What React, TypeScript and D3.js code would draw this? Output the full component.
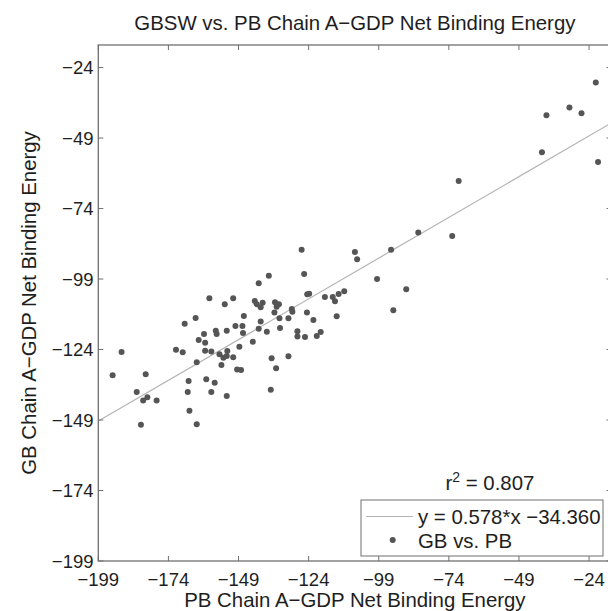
import React from "react";
import * as d3 from "d3";

const pbValues = [
  -193.9, -190.7, -185.3, -182.1, -183.0, -181.5, -178.2, -183.8, -171.3, -168.9,
  -168.2, -164.3, -163.9, -166.8, -167.1, -166.5, -163.9, -163.2, -161.3, -160.9,
  -160.9, -159.4, -158.7, -160.5, -157.5, -158.7, -157.1, -156.8, -153.9, -153.2,
  -150.9, -150.1, -147.6, -147.1, -147.4, -155.8, -155.1, -154.4, -153.0, -153.2,
  -150.9, -148.7, -149.5, -148.1, -153.2, -143.9, -143.2, -141.8, -142.5, -141.1,
  -140.4, -138.2, -141.1, -141.8, -138.9, -136.0, -135.4, -136.2, -134.6, -134.4,
  -134.2, -131.2, -137.2, -135.6, -137.5, -131.2, -126.5, -125.6, -124.5, -123.8,
  -130.0, -129.8, -124.6, -122.3, -128.0, -128.0, -125.3, -121.1, -119.7, -118.2,
  -115.4, -114.6, -113.3, -111.3, -114.0, -107.5, -106.7, -99.6, -94.6, -89.2,
  -93.8, -84.9, -72.8, -70.5, -40.8, -39.2, -31.0, -26.7, -21.6, -20.8,
];
const gbValues = [
  -133.1, -124.9, -139.1, -132.8, -142.1, -140.9, -142.1, -150.7, -124.1, -125.0,
  -114.9, -112.8, -128.5, -135.2, -139.1, -145.7, -150.5, -120.6, -118.5, -121.6,
  -124.4, -105.8, -124.7, -134.5, -135.8, -139.1, -117.3, -118.5, -107.9, -117.3,
  -105.8, -115.7, -115.7, -112.1, -118.1, -125.7, -129.5, -126.9, -124.5, -126.3,
  -126.7, -123.0, -131.1, -131.3, -140.5, -121.2, -106.8, -100.5, -107.9, -109.0,
  -107.4, -97.8, -114.1, -116.6, -117.7, -107.2, -108.8, -110.9, -107.9, -112.9,
  -116.4, -112.9, -127.1, -130.6, -138.3, -126.4, -88.6, -97.2, -104.4, -104.2,
  -109.6, -110.6, -110.9, -113.5, -117.5, -119.4, -119.6, -119.2, -117.8, -105.4,
  -105.4, -106.9, -104.3, -103.3, -112.2, -89.4, -92.0, -99.0, -88.6, -102.6,
  -110.1, -82.5, -83.7, -64.2, -54.0, -40.9, -38.2, -40.2, -29.3, -57.5,
];
const tickValues = [-199, -174, -149, -124, -99, -74, -49, -24];
const axisDomain = [-199, -16];
const fitSlope = 0.578;
const fitIntercept = -34.36;
const titleText = "GBSW vs. PB Chain A\u2212GDP Net Binding Energy";
const xLabelText = "PB Chain A\u2212GDP Net Binding Energy";
const yLabelText = "GB Chain A\u2212GDP Net Binding Energy";
const legendFitText = "y = 0.578*x \u221234.360";
const legendDataText = "GB vs. PB";
const r2Text = "0.807";

const W = 608;
const H = 611;
const FONT = "'Liberation Sans', Arial, Helvetica, sans-serif";

export default function App() {
  const left = 98.3, right = 611.5, top = 45, bottom = 561;
  const x = d3.scaleLinear().domain(axisDomain).range([left, right]);
  const y = d3.scaleLinear().domain(axisDomain).range([bottom, top]);
  const fmt = (v: number) => (v < 0 ? "\u2212" + Math.abs(v) : String(v));
  const frame = "#707070";
  const textColor = "#1e1e1e";
  const tickLen = 5;
  const lineGen = d3.line<number>().x((d) => x(d)).y((d) => y(fitSlope * d + fitIntercept));

  return (
    <svg
      width={W}
      height={H}
      style={{ position: "absolute", left: 0, top: 0, background: "#fff" }}
      fontFamily={FONT}
    >
      <rect x={0} y={0} width={W} height={H} fill="#fff" />
      <defs>
        <clipPath id="plotClip">
          <rect x={left} y={top} width={right - left} height={bottom - top} />
        </clipPath>
      </defs>

      <path
        d={lineGen(axisDomain) || ""}
        stroke="#b4b4b4"
        strokeWidth={1.2}
        fill="none"
        clipPath="url(#plotClip)"
      />

      <g fill="#555">
        {pbValues.map((v, i) => (
          <circle key={i} cx={x(v)} cy={y(gbValues[i])} r={3} />
        ))}
      </g>

      <rect x={left} y={top} width={right - left} height={bottom - top} fill="none" stroke={frame} strokeWidth={1.3} />

      <g stroke={frame} strokeWidth={1}>
        {tickValues.map((t) => (
          <g key={"t" + t}>
            <line x1={x(t)} x2={x(t)} y1={bottom} y2={bottom - tickLen} />
            <line x1={x(t)} x2={x(t)} y1={top} y2={top + tickLen} />
            <line x1={left} x2={left + tickLen} y1={y(t)} y2={y(t)} />
            <line x1={right} x2={right - tickLen} y1={y(t)} y2={y(t)} />
          </g>
        ))}
      </g>

      <g fill={textColor} fontSize={18.5}>
        {tickValues.map((t) => (
          <text key={"xl" + t} x={x(t)} y={586} textAnchor="middle">
            {fmt(t)}
          </text>
        ))}
        {tickValues.map((t) => (
          <text key={"yl" + t} x={93.5} y={y(t) + 6.5} textAnchor="end">
            {fmt(t)}
          </text>
        ))}
      </g>

      <text x={(left + right) / 2} y={30} textAnchor="middle" fontSize={20.4} fill={textColor}>
        {titleText}
      </text>
      <text x={(left + right) / 2} y={607} textAnchor="middle" fontSize={20.4} fill={textColor}>
        {xLabelText}
      </text>
      <text
        transform={`translate(35.5, ${(top + bottom) / 2}) rotate(-90)`}
        textAnchor="middle"
        fontSize={20.4}
        fill={textColor}
      >
        {yLabelText}
      </text>

      <text x={445.5} y={489.5} fontSize={20.4} fill={textColor}>
        r
        <tspan fontSize={14} dy={-8}>2</tspan>
        <tspan dy={8}>{" = " + r2Text}</tspan>
      </text>

      <rect x={361} y={500} width={242} height={56} fill="#fff" stroke={frame} strokeWidth={1} />
      <line x1={366} x2={413} y1={516.5} y2={516.5} stroke="#b4b4b4" strokeWidth={1.2} />
      <text x={418} y={523.5} fontSize={20.4} fill={textColor}>
        {legendFitText}
      </text>
      <circle cx={392.7} cy={540} r={3} fill="#555" />
      <text x={418} y={547.5} fontSize={20.4} fill={textColor}>
        {legendDataText}
      </text>
    </svg>
  );
}
